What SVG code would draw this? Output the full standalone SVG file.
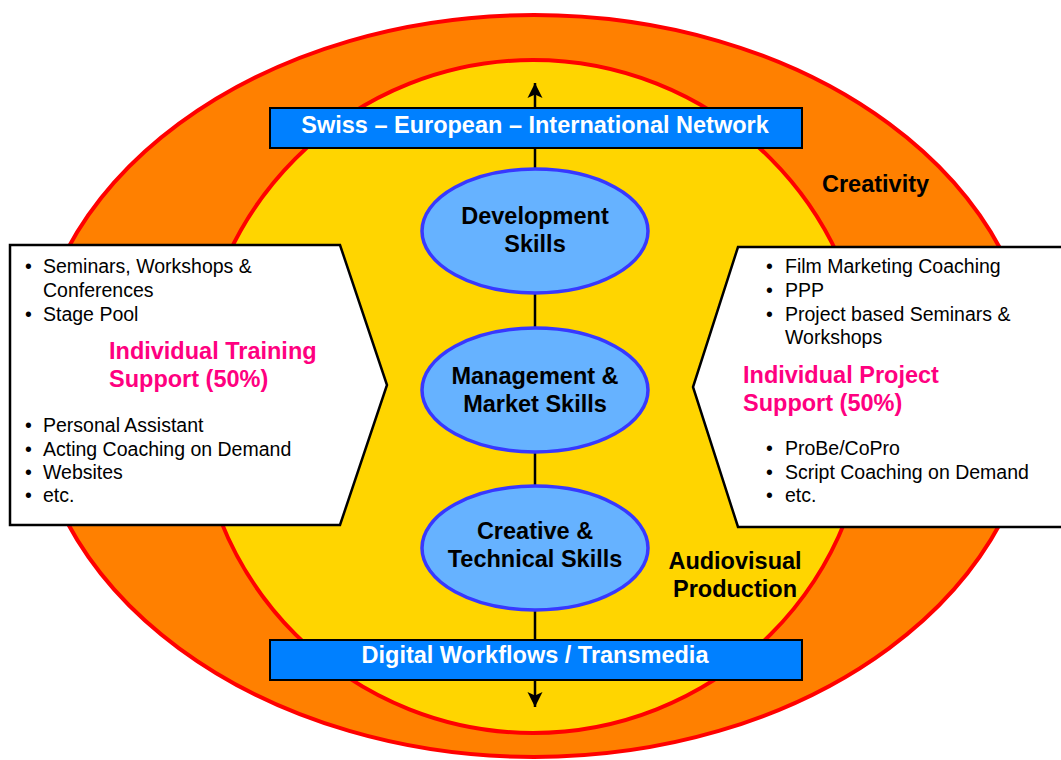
<svg xmlns="http://www.w3.org/2000/svg" width="1061" height="760" viewBox="0 0 1061 760">
<style>
.ring{stroke:#FF0000;stroke-width:4}
.panel{fill:#FFFFFF;stroke:#000000;stroke-width:2.5}
.bar{fill:#0080FF;stroke:#000000;stroke-width:2}
.skill{fill:#66B2FF;stroke:#3838FF;stroke-width:3.5}
.conn{stroke:#000000;stroke-width:2.5;fill:none}
text{font-family:"Liberation Sans",Arial,Helvetica,sans-serif}
.b{font-weight:bold;font-size:23.5px;fill:#000000}
.w{font-weight:bold;font-size:23.5px;fill:#FFFFFF}
.p{font-weight:bold;font-size:23.5px;fill:#FF0080}
.l{font-size:19.5px;fill:#000000}
</style>
<defs>
<marker id="arr" viewBox="0 0 16 16" refX="15" refY="8" markerWidth="16" markerHeight="16" orient="auto" markerUnits="userSpaceOnUse">
<path d="M0,0.5 L15,8 L0,15.5 L3.5,8 Z" fill="#000000"/>
</marker>
</defs>
<g id="creativity">
<ellipse class="ring" cx="534" cy="386" rx="502" ry="371" fill="#FF8000"/>
<text class="b" x="822" y="192">Creativity</text>
</g>
<g id="audiovisual-production">
<ellipse class="ring" cx="533" cy="396.5" rx="336" ry="336.5" fill="#FFD500"/>
<text class="b" x="735" y="569" text-anchor="middle">Audiovisual</text>
<text class="b" x="735" y="597" text-anchor="middle">Production</text>
</g>
<g id="individual-training">
<polygon class="panel" points="10,245 340,245 387,385 340,525 10,525"/>
<text class="l" x="25" y="273">•</text><text class="l" x="43" y="273">Seminars, Workshops &amp;</text>
<text class="l" x="43" y="297">Conferences</text>
<text class="l" x="25" y="321">•</text><text class="l" x="43" y="321">Stage Pool</text>
<text class="p" x="109" y="359">Individual Training</text>
<text class="p" x="109" y="387">Support (50%)</text>
<text class="l" x="25" y="432">•</text><text class="l" x="43" y="432">Personal Assistant</text>
<text class="l" x="25" y="456">•</text><text class="l" x="43" y="456">Acting Coaching on Demand</text>
<text class="l" x="25" y="479">•</text><text class="l" x="43" y="479">Websites</text>
<text class="l" x="25" y="502">•</text><text class="l" x="43" y="502">etc.</text>
</g>
<g id="individual-project">
<polygon class="panel" points="738,247 1064,247 1064,527 738,527 693,387"/>
<text class="l" x="766" y="273">•</text><text class="l" x="785" y="273">Film Marketing Coaching</text>
<text class="l" x="766" y="297">•</text><text class="l" x="785" y="297">PPP</text>
<text class="l" x="766" y="321">•</text><text class="l" x="785" y="321">Project based Seminars &amp;</text>
<text class="l" x="785" y="344">Workshops</text>
<text class="p" x="743" y="383">Individual Project</text>
<text class="p" x="743" y="411">Support (50%)</text>
<text class="l" x="766" y="455">•</text><text class="l" x="785" y="455">ProBe/CoPro</text>
<text class="l" x="766" y="479">•</text><text class="l" x="785" y="479">Script Coaching on Demand</text>
<text class="l" x="766" y="502">•</text><text class="l" x="785" y="502">etc.</text>
</g>
<g id="connectors">
<line class="conn" x1="535" y1="169" x2="535" y2="83" marker-end="url(#arr)"/>
<line class="conn" x1="535" y1="293" x2="535" y2="328"/>
<line class="conn" x1="535" y1="452" x2="535" y2="487"/>
<line class="conn" x1="535" y1="610" x2="535" y2="707" marker-end="url(#arr)"/>
</g>
<g id="network">
<rect class="bar" x="270" y="108" width="532" height="40"/>
<text class="w" x="535" y="133" text-anchor="middle">Swiss – European – International Network</text>
</g>
<g id="digital-workflows">
<rect class="bar" x="270" y="640" width="532" height="40"/>
<text class="w" x="535" y="663" text-anchor="middle">Digital Workflows / Transmedia</text>
</g>
<g id="development-skills">
<ellipse class="skill" cx="535" cy="231" rx="113" ry="62"/>
<text class="b" x="535" y="224" text-anchor="middle">Development</text>
<text class="b" x="535" y="252" text-anchor="middle">Skills</text>
</g>
<g id="management-skills">
<ellipse class="skill" cx="535" cy="390" rx="113" ry="62"/>
<text class="b" x="535" y="384" text-anchor="middle">Management &amp;</text>
<text class="b" x="535" y="412" text-anchor="middle">Market Skills</text>
</g>
<g id="creative-skills">
<ellipse class="skill" cx="535" cy="548" rx="113" ry="62"/>
<text class="b" x="535" y="539" text-anchor="middle">Creative &amp;</text>
<text class="b" x="535" y="567" text-anchor="middle">Technical Skills</text>
</g>
</svg>
